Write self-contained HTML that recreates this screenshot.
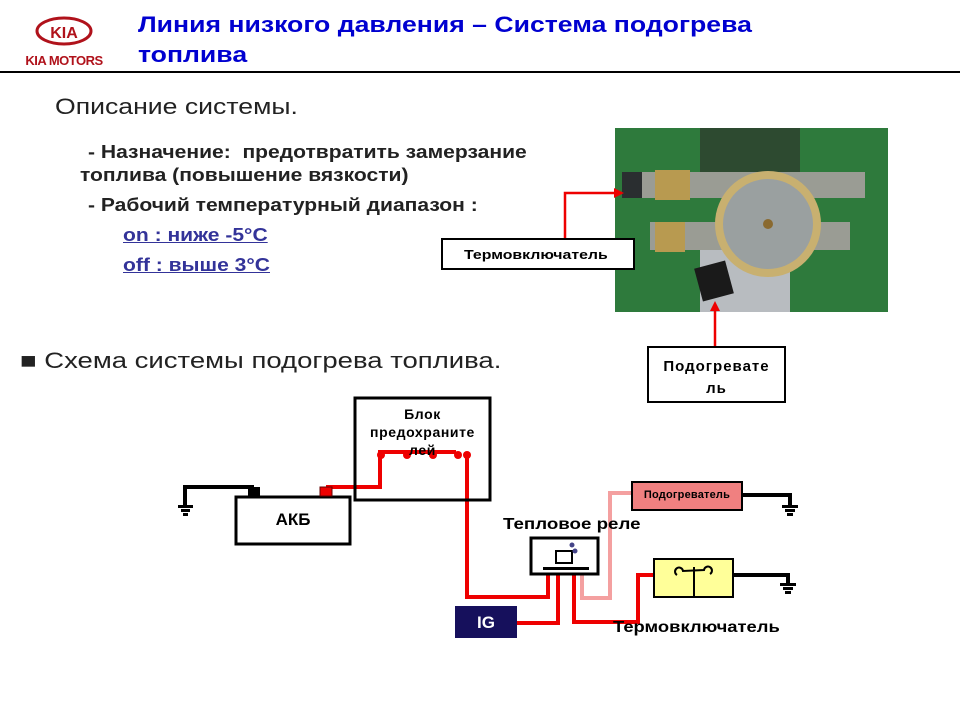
<!DOCTYPE html>
<html><head><meta charset="utf-8"><style>
body{margin:0;width:960px;height:720px;background:#fff;position:relative;overflow:hidden;font-family:"Liberation Sans",sans-serif}
.a{position:absolute;white-space:nowrap;transform-origin:0 0}
.b{font-weight:bold}
</style></head><body>
<svg class="a" style="left:0;top:0" width="960" height="720">
<ellipse cx="64" cy="31" rx="27" ry="13" fill="none" stroke="#b0121b" stroke-width="3"/>
<text x="64" y="38" text-anchor="middle" font-family="Liberation Sans" font-weight="bold" font-size="16" fill="#b0121b">KIA</text>
<text x="64" y="65" text-anchor="middle" font-family="Liberation Sans" font-weight="bold" font-size="13" fill="#b0121b" letter-spacing="-0.5">KIA MOTORS</text>
<line x1="0" y1="72" x2="960" y2="72" stroke="#000" stroke-width="2"/>
<rect x="615" y="128" width="273" height="184" fill="#2e7a3c"/>
<rect x="700" y="128" width="100" height="60" fill="#2d4a30"/>
<rect x="700" y="240" width="90" height="72" fill="#b8bcc0"/>
<rect x="625" y="172" width="240" height="26" fill="#9a9c94"/>
<rect x="650" y="222" width="200" height="28" fill="#9a9c94"/>
<rect x="622" y="172" width="20" height="26" fill="#2a2e30"/>
<rect x="655" y="170" width="35" height="30" fill="#b89a50"/>
<rect x="655" y="222" width="30" height="30" fill="#b89a50"/>
<circle cx="768" cy="224" r="53" fill="#c8b070"/>
<circle cx="768" cy="224" r="45" fill="#9aa0a0"/>
<circle cx="768" cy="224" r="5" fill="#8a6a30"/>
<rect x="698" y="264" width="32" height="34" fill="#1a1a1a" transform="rotate(-15 714 281)"/>
<polyline points="565,239 565,193 618,193" fill="none" stroke="#e00" stroke-width="2.5"/>
<polygon points="624,193 614,188 614,198" fill="#e00"/>
<line x1="715" y1="347" x2="715" y2="308" stroke="#e00" stroke-width="2.5"/>
<polygon points="715,301 710,311 720,311" fill="#e00"/>
<rect x="442" y="239" width="192" height="30" fill="#fff" stroke="#000" stroke-width="2"/>
<rect x="648" y="347" width="137" height="55" fill="#fff" stroke="#000" stroke-width="2"/>
<g stroke-width="4" fill="none">
<polyline points="185,505 185,487 254,487" stroke="#000"/>
<polyline points="326,487 380,487 380,452 456,452" stroke="#e00"/>
<polyline points="467,455 467,597 548,597 548,575" stroke="#e00"/>
<polyline points="517,623 558,623 558,575" stroke="#e00"/>
<polyline points="574,575 574,622 638,622 638,575 660,575" stroke="#e00"/>
<polyline points="582,566 582,598 610,598 610,493 632,493" stroke="#f4a0a0"/>
<polyline points="742,495 790,495 790,505" stroke="#000"/>
<polyline points="715,575 788,575 788,583" stroke="#000"/>
<polyline points="548,566 548,552 568,550" stroke="#e00" stroke-width="3"/>
</g>
<g fill="#e00"><circle cx="381" cy="455" r="4"/><circle cx="407" cy="455" r="4"/><circle cx="433" cy="455" r="4"/><circle cx="458" cy="455" r="4"/><circle cx="467" cy="455" r="4"/></g>
<g fill="#000"><rect x="178" y="505" width="15" height="3"/><rect x="181" y="509" width="9" height="3"/><rect x="183" y="513" width="5" height="3"/>
<rect x="782" y="505" width="16" height="3"/><rect x="785" y="509" width="10" height="3"/><rect x="787" y="513" width="6" height="3"/>
<rect x="780" y="583" width="16" height="3"/><rect x="783" y="587" width="10" height="3"/><rect x="785" y="591" width="6" height="3"/></g>
<rect x="355" y="398" width="135" height="102" fill="none" stroke="#000" stroke-width="3"/>
<rect x="236" y="497" width="114" height="47" fill="#fff" stroke="#000" stroke-width="3"/>
<rect x="248" y="487" width="12" height="9" fill="#000"/>
<rect x="320" y="487" width="12" height="9" fill="#e00" stroke="#600" stroke-width="1"/>
<rect x="531" y="538" width="67" height="36" fill="#fff" stroke="#000" stroke-width="3"/>
<rect x="543" y="567" width="46" height="3" fill="#000"/>
<rect x="556" y="551" width="16" height="12" fill="none" stroke="#000" stroke-width="2"/>
<circle cx="572" cy="545" r="2.5" fill="#448"/><circle cx="575" cy="551" r="2.5" fill="#448"/>
<rect x="455" y="606" width="62" height="32" fill="#16105c"/>
<rect x="632" y="482" width="110" height="28" fill="#f08080" stroke="#000" stroke-width="2"/>
<rect x="654" y="559" width="79" height="38" fill="#ffff99" stroke="#000" stroke-width="2"/>
<line x1="694" y1="567" x2="694" y2="597" stroke="#000" stroke-width="2"/>
<path d="M677,575 a4,4 0 1,1 6,-4 L704,570 a4,4 0 1,1 6,4" fill="none" stroke="#000" stroke-width="2"/>
</svg>
<div class="a b" style="left:138px;top:12px;font-size:22px;color:#0000d0;transform:scaleX(1.21)">Линия низкого давления – Система подогрева</div>
<div class="a b" style="left:138px;top:42px;font-size:22px;color:#0000d0;transform:scaleX(1.21)">топлива</div>
<div class="a" style="left:55px;top:94px;font-size:22px;color:#222;transform:scaleX(1.21)">Описание системы.</div>
<div class="a b" style="left:88px;top:142px;font-size:18px;color:#222;transform:scaleX(1.17)">- Назначение:&nbsp; предотвратить замерзание</div>
<div class="a b" style="left:80px;top:165px;font-size:18px;color:#222;transform:scaleX(1.17)">топлива (повышение вязкости)</div>
<div class="a b" style="left:88px;top:195px;font-size:18px;color:#222;transform:scaleX(1.17)">- Рабочий температурный диапазон :</div>
<div class="a b" style="left:123px;top:225px;font-size:18px;color:#333399;text-decoration:underline;transform:scaleX(1.17)">on : ниже -5°C </div>
<div class="a b" style="left:123px;top:255px;font-size:18px;color:#333399;text-decoration:underline;transform:scaleX(1.17)">off : выше 3°C</div>
<div class="a b" style="left:464px;top:247px;font-size:13px;transform:scaleX(1.22)">Термовключатель</div>
<div class="a b" style="left:648px;top:356px;width:137px;text-align:center;font-size:15px;line-height:22px;letter-spacing:1px">Подогревате<br>ль</div>
<div class="a" style="left:20px;top:348px;font-size:22px;color:#222;transform:scaleX(1.25)">■ Схема системы подогрева топлива.</div>
<div class="a b" style="left:355px;top:405px;width:135px;text-align:center;font-size:14px;line-height:18px;letter-spacing:0.6px">Блок<br>предохраните<br>лей</div>
<div class="a b" style="left:236px;top:510px;width:114px;text-align:center;font-size:17px">АКБ</div>
<div class="a b" style="left:455px;top:613px;width:62px;text-align:center;font-size:17px;color:#fff">IG</div>
<div class="a b" style="left:503px;top:516px;font-size:16px;transform:scaleX(1.17)">Тепловое реле</div>
<div class="a b" style="left:632px;top:489px;width:110px;text-align:center;font-size:11px;letter-spacing:0.2px">Подогреватель</div>
<div class="a b" style="left:613px;top:619px;font-size:16px;transform:scaleX(1.15)">Термовключатель</div>
</body></html>
